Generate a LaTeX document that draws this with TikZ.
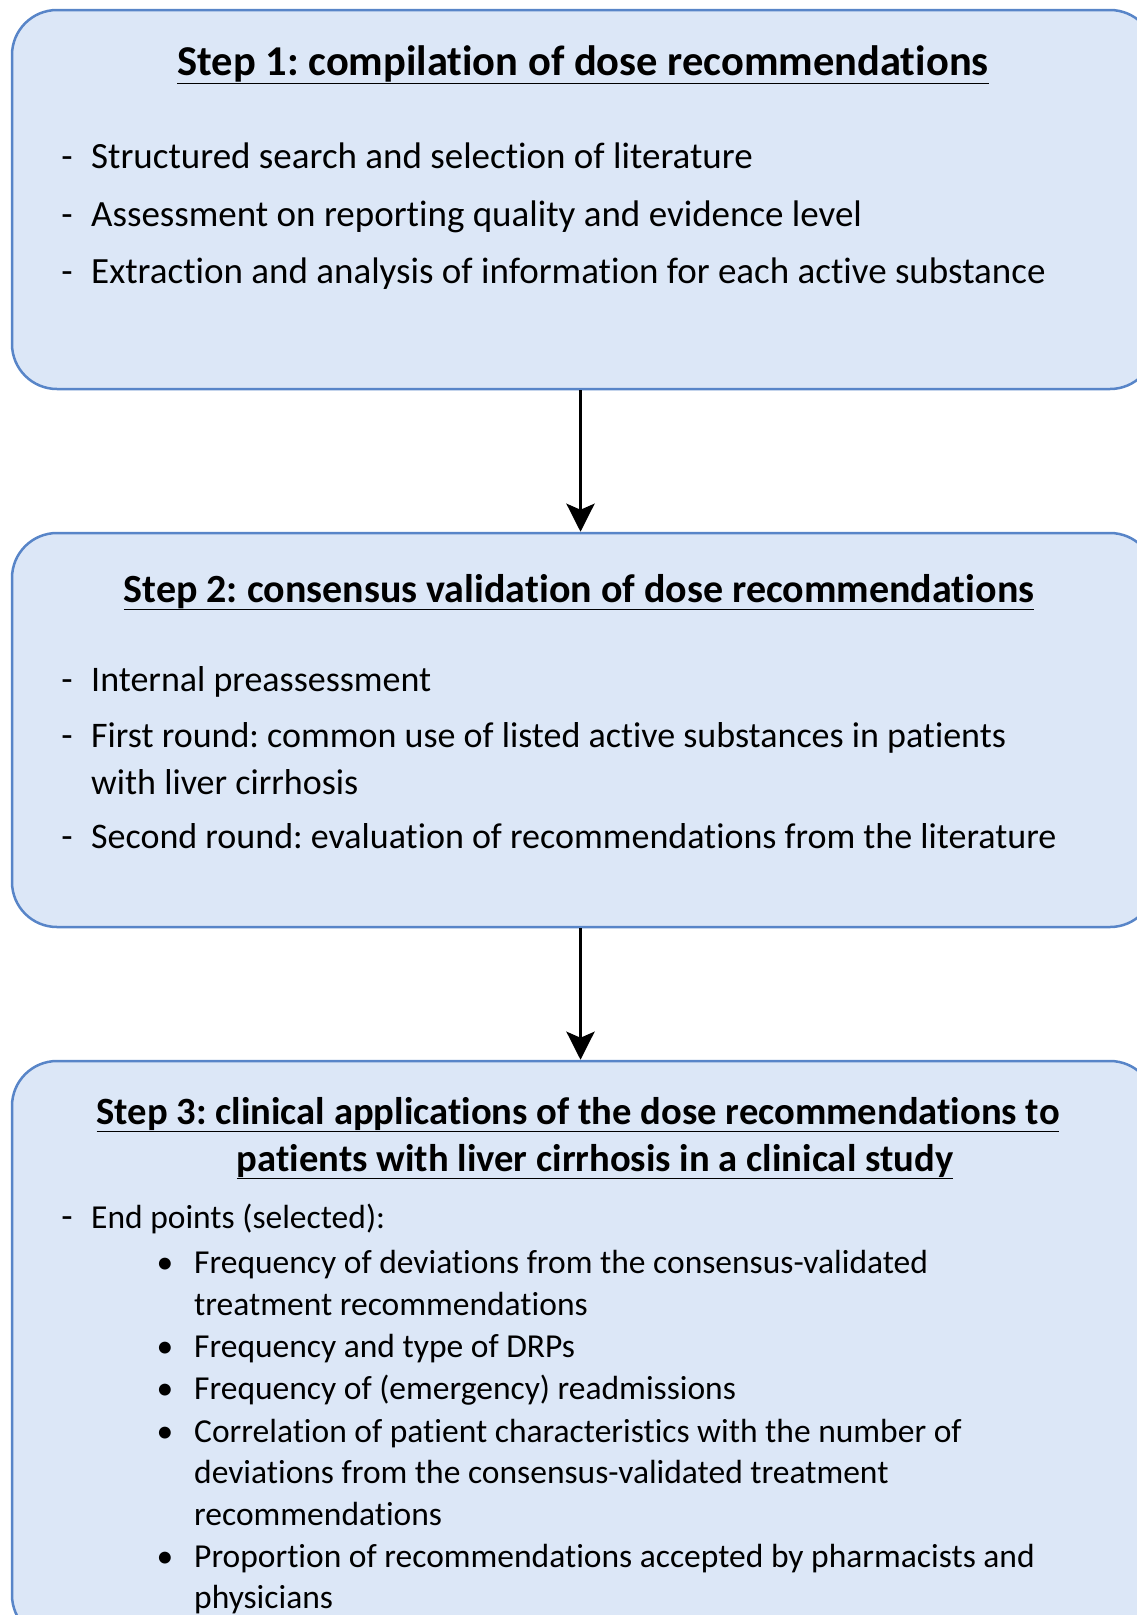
\documentclass[tikz,border=0pt]{standalone}
\usepackage{fontspec}
\setmainfont{Carlito}[Ligatures=NoCommon]
\usetikzlibrary{arrows.meta}
\definecolor{boxfill}{RGB}{220,231,247}
\definecolor{boxline}{RGB}{88,133,200}
\tikzset{
  stepbox/.style={draw=boxline, fill=boxfill, line width=2.5pt, rounded corners=45pt, minimum width=1143pt, inner sep=0pt},
  ttl/.style={anchor=base, inner sep=0pt, font=\bfseries\fontsize{42.5}{50}\selectfont},
  ttlm/.style={anchor=base, inner sep=0pt, font=\bfseries\fontsize{40}{48}\selectfont},
  ttlb/.style={anchor=base, inner sep=0pt, font=\bfseries\fontsize{38.6}{47}\selectfont},
  txt/.style={anchor=base west, inner sep=0pt, font=\fontsize{37}{44}\selectfont},
  txtm/.style={anchor=base west, inner sep=0pt, font=\fontsize{36}{44}\selectfont},
  txtb/.style={anchor=base west, inner sep=0pt, font=\fontsize{33.5}{40}\selectfont},
  dashmark/.style={anchor=base, inner sep=0pt, font=\fontsize{37}{44}\selectfont},
  dotmark/.style={anchor=base, inner sep=0pt, font=\fontsize{33.5}{40}\selectfont},
  arr/.style={line width=3.5pt, -{Stealth[length=28pt,width=28pt,inset=6pt]}}
}
\frenchspacing
\begin{document}
\begin{tikzpicture}[x=1pt,y=-1pt]
\useasboundingbox (0,0) rectangle (1137,1615);
% boxes
\node[stepbox, minimum height=379pt] (b1) at (583.5,199.5) {};
\node[stepbox, minimum height=394pt] (b2) at (583.5,730) {};
\node[stepbox, minimum height=579pt] (b3) at (583.5,1350.5) {};
% arrows
\draw[arr] ([xshift=-3pt]b1.south) -- ([xshift=-3pt]b2.north);
\draw[arr] ([xshift=-3pt]b2.south) -- ([xshift=-3pt]b3.north);
% box 1
\node[ttl] (t1) at (583,75) {\underline{Step 1: compilation of dose recommendations}};
\node[dashmark] (d11) at (67,168) {-};
\node[txt] (l11) at (91,168) {Structured search and selection of literature};
\node[dashmark] (d12) at (67,226) {-};
\node[txt] (l12) at (91,226) {Assessment on reporting quality and evidence level};
\node[dashmark] (d13) at (67,283) {-};
\node[txt] (l13) at (91,283) {Extraction and analysis of information for each active substance};
% box 2
\node[ttlm] (t2) at (579,602) {\underline{Step 2: consensus validation of dose recommendations}};
\node[dashmark] (d21) at (67,691) {-};
\node[txtm] (l21) at (91,691) {Internal preassessment};
\node[dashmark] (d22) at (67,747) {-};
\node[txtm] (l22) at (91,747) {First round: common use of listed active substances in patients};
\node[txtm] (l23) at (91,794) {with liver cirrhosis};
\node[dashmark] (d24) at (67,848) {-};
\node[txtm] (l24) at (91,848) {Second round: evaluation of recommendations from the literature};
% box 3
\node[ttlb] (t3a) at (578,1124) {\underline{Step 3: clinical applications of the dose recommendations to}};
\node[ttlb] (t3b) at (595,1171) {\underline{patients with liver cirrhosis in a clinical study}};
\node[dashmark] (d31) at (67,1228) {-};
\node[txtb] (l31) at (91,1228) {End points (selected):};
\node[dotmark] (p1) at (165,1273) {•};
\node[txtb] (l32) at (194,1273) {Frequency of deviations from the consensus-validated};
\node[txtb] (l33) at (194,1315) {treatment recommendations};
\node[dotmark] (p2) at (165,1357) {•};
\node[txtb] (l34) at (194,1357) {Frequency and type of DRPs};
\node[dotmark] (p3) at (165,1399) {•};
\node[txtb] (l35) at (194,1399) {Frequency of (emergency) readmissions};
\node[dotmark] (p4) at (165,1442) {•};
\node[txtb] (l36) at (194,1442) {Correlation of patient characteristics with the number of};
\node[txtb] (l37) at (194,1483) {deviations from the consensus-validated treatment};
\node[txtb] (l38) at (194,1525) {recommendations};
\node[dotmark] (p5) at (165,1567) {•};
\node[txtb] (l39) at (194,1567) {Proportion of recommendations accepted by pharmacists and};
\node[txtb] (l40) at (194,1608) {physicians};
\end{tikzpicture}
\end{document}
